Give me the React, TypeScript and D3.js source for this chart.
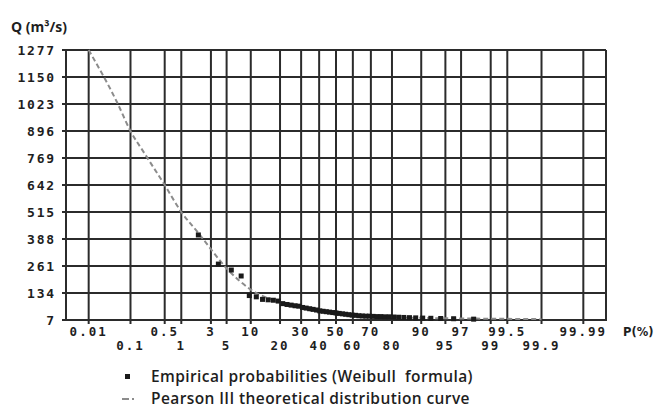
import { useEffect, useRef } from "react";
import * as d3 from "d3";

// probability ticks (%) on the normal-probability axis
const pTicks = [0.01, 0.1, 0.5, 1, 3, 5, 10, 20, 30, 40, 50, 60, 70, 80, 90, 95, 97, 99, 99.5, 99.9, 99.99];
const qTicks = [7, 134, 261, 388, 515, 642, 769, 896, 1023, 1150, 1277];

// empirical discharges, sorted descending; P = m/(n+1) (Weibull)
const empiricalQ = [
  407, 270, 242, 214, 122, 116, 104, 102, 100, 96,
  84, 80, 77, 74, 72, 66, 63, 60, 57, 54,
  50, 48, 46, 44, 42, 40, 38, 36, 34, 32,
  30, 29, 27, 26, 25, 25, 24, 23, 23, 22,
  22, 21, 20, 19, 18, 17, 16, 15, 14, 13, 11,
];

// Pearson III theoretical curve
const curveP = [0.01, 0.05, 0.1, 0.2, 0.5, 1, 2, 3, 5, 10, 20, 30, 40, 50, 60, 70, 80, 90, 95, 99, 99.9];
const curveQ = [1277, 1030, 896, 790, 642, 515, 410, 340, 250, 150, 90, 62, 46, 36, 29, 24, 20, 17, 15, 13, 11];

// inverse standard normal CDF (Acklam)
function probit(p: number) {
  const a = [-39.69683028665376, 220.9460984245205, -275.9285104469687, 138.357751867269, -30.66479806614716, 2.506628277459239];
  const b = [-54.47609879822406, 161.5858368580409, -155.6989798598866, 66.80131188771972, -13.28068155288572];
  const c = [-0.007784894002430293, -0.3223964580411365, -2.400758277161838, -2.549732539343734, 4.374664141464968, 2.938163982698783];
  const d = [0.007784695709041462, 0.3224671290700398, 2.445134137142996, 3.754408661907416];
  const plow = 0.02425;
  if (p < plow) {
    const q = Math.sqrt(-2 * Math.log(p));
    return (((((c[0] * q + c[1]) * q + c[2]) * q + c[3]) * q + c[4]) * q + c[5]) / ((((d[0] * q + d[1]) * q + d[2]) * q + d[3]) * q + 1);
  }
  if (p > 1 - plow) {
    const q = Math.sqrt(-2 * Math.log(1 - p));
    return -(((((c[0] * q + c[1]) * q + c[2]) * q + c[3]) * q + c[4]) * q + c[5]) / ((((d[0] * q + d[1]) * q + d[2]) * q + d[3]) * q + 1);
  }
  const q = p - 0.5;
  const r = q * q;
  return (((((a[0] * r + a[1]) * r + a[2]) * r + a[3]) * r + a[4]) * r + a[5]) * q / (((((b[0] * r + b[1]) * r + b[2]) * r + b[3]) * r + b[4]) * r + 1);
}

export default function App() {
  const svgRef = useRef<SVGSVGElement>(null);

  useEffect(() => {
    if (!svgRef.current) return;
    const W = 655, H = 408;
    const left = 66, right = 606, top = 50, bottom = 320;
    const svg = d3.select(svgRef.current);
    svg.selectAll("*").remove();
    svg.attr("width", W).attr("height", H);

    const zScale = d3.scaleLinear().domain([-4.06, 4.06]).range([left, right]);
    const x = (p: number) => zScale(probit(p / 100));
    const y = d3.scaleLinear().domain([7, 1277]).range([bottom, top]);

    const gridColor = "#2b2b2b";
    const labelFont = "'DejaVu Sans Mono', monospace";

    // horizontal grid + y labels
    svg.append("g")
      .selectAll("line")
      .data(qTicks)
      .enter()
      .append("line")
      .attr("x1", left - 4)
      .attr("x2", right)
      .attr("y1", d => y(d))
      .attr("y2", d => y(d))
      .attr("stroke", gridColor)
      .attr("stroke-width", 2);

    svg.append("g")
      .selectAll("text")
      .data(qTicks)
      .enter()
      .append("text")
      .attr("x", 56)
      .attr("y", d => y(d))
      .attr("dy", "0.35em")
      .attr("text-anchor", "end")
      .attr("font-family", labelFont)
      .attr("font-weight", "bold")
      .attr("font-size", 13)
      .attr("letter-spacing", 1.8)
      .attr("fill", "#1e1e1e")
      .text(d => d);

    // vertical grid + x labels
    svg.append("g")
      .selectAll("line")
      .data(pTicks)
      .enter()
      .append("line")
      .attr("x1", d => x(d))
      .attr("x2", d => x(d))
      .attr("y1", top)
      .attr("y2", bottom + 4)
      .attr("stroke", gridColor)
      .attr("stroke-width", 2);

    svg.append("line")
      .attr("x1", left).attr("x2", left)
      .attr("y1", top).attr("y2", bottom + 1)
      .attr("stroke", gridColor).attr("stroke-width", 2);
    svg.append("line")
      .attr("x1", right).attr("x2", right)
      .attr("y1", top).attr("y2", bottom + 1)
      .attr("stroke", gridColor).attr("stroke-width", 2);

    svg.append("g")
      .selectAll("text")
      .data(pTicks)
      .enter()
      .append("text")
      .attr("x", d => x(d))
      .attr("y", (_, i) => (i % 2 === 0 ? 336 : 350))
      .attr("text-anchor", "middle")
      .attr("font-family", labelFont)
      .attr("font-weight", "bold")
      .attr("font-size", 12.5)
      .attr("letter-spacing", 2)
      .attr("fill", "#1e1e1e")
      .text(d => d);

    svg.append("text")
      .attr("x", 623).attr("y", 336)
      .attr("font-family", "'DejaVu Sans', sans-serif")
      .attr("font-weight", "bold")
      .attr("font-size", 11.5)
      .attr("fill", "#1e1e1e")
      .text("P(%)");

    svg.append("text")
      .attr("x", 11).attr("y", 32)
      .attr("font-family", "'Open Sans', sans-serif")
      .attr("font-weight", "bold")
      .attr("font-size", 14)
      .attr("fill", "#1e1e1e")
      .text("Q (m³/s)");

    // Pearson III curve
    const line = d3.line<number>()
      .x((_, i) => x(curveP[i]))
      .y(d => y(d))
      .curve(d3.curveMonotoneX);
    svg.append("path")
      .attr("d", line(curveQ))
      .attr("fill", "none")
      .attr("stroke", "#8c8c8c")
      .attr("stroke-width", 2)
      .attr("stroke-dasharray", "5,3");

    // empirical points
    const n = empiricalQ.length;
    svg.append("g")
      .selectAll("rect")
      .data(empiricalQ)
      .enter()
      .append("rect")
      .attr("x", (_, i) => x(((i + 1) / (n + 1)) * 100) - 2.5)
      .attr("y", d => y(d) - 2.5)
      .attr("width", 5)
      .attr("height", 5)
      .attr("fill", "#1a1a1a");

    // legend
    svg.append("rect")
      .attr("x", 125).attr("y", 374).attr("width", 5).attr("height", 5)
      .attr("fill", "#1a1a1a");
    svg.append("line")
      .attr("x1", 122).attr("x2", 136).attr("y1", 399).attr("y2", 399)
      .attr("stroke", "#8c8c8c").attr("stroke-width", 2)
      .attr("stroke-dasharray", "7,3,2,3");
    const legendText = ["Empirical probabilities (Weibull  formula)", "Pearson III theoretical distribution curve"];
    svg.append("g")
      .selectAll("text")
      .data(legendText)
      .enter()
      .append("text")
      .attr("x", 151)
      .attr("y", (_, i) => 382 + i * 22)
      .attr("font-family", "'Open Sans', sans-serif")
      .attr("font-weight", 600)
      .attr("font-size", 15.5)
      .attr("letter-spacing", 0.4)
      .attr("fill", "#1e1e1e")
      .style("white-space", "pre")
      .text(d => d);
  }, []);

  return (
    <div style={{ position: "absolute", left: 0, top: 0 }}>
      <svg ref={svgRef} style={{ display: "block" }}></svg>
    </div>
  );
}
